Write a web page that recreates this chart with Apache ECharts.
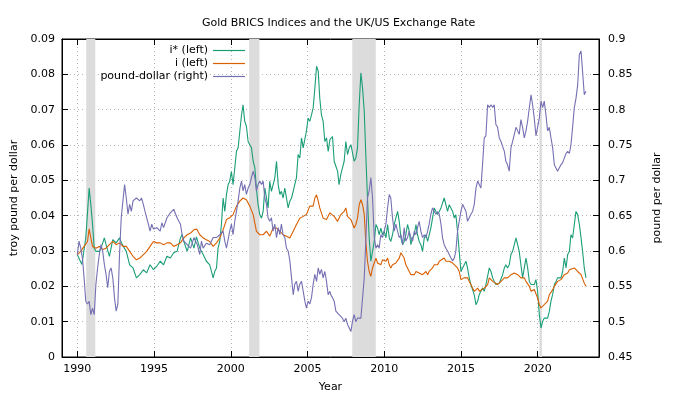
<!DOCTYPE html>
<html>
<head>
<meta charset="utf-8">
<script src="https://cdn.jsdelivr.net/npm/echarts@6/dist/echarts.min.js"></script>
<style>html,body{margin:0;padding:0;background:#fff}#c{width:680px;height:400px}</style>
</head>
<body>
<div id="c"></div>
<script>
const titleText = 'Gold BRICS Indices and the UK/US Exchange Rate';
const seriesNames = ['i* (left)', 'i (left)', 'pound-dollar (right)'];
const xTicks = [1990, 1995, 2000, 2005, 2010, 2015, 2020];
const recessions = [[1990.58, 1991.17], [2001.2, 2001.87], [2007.92, 2009.45], [2020.12, 2020.28]];

const istar = [
[1990.00,0.0290],[1990.15,0.0275],[1990.30,0.0262],[1990.55,0.0337],[1990.77,0.0478],[1990.88,0.0431],[1990.99,0.0375],[1991.10,0.0308],[1991.21,0.0299],[1991.43,0.0299],[1991.54,0.0308],[1991.76,0.0337],[1991.87,0.0318],[1992.09,0.0285],[1992.31,0.0332],[1992.53,0.0323],[1992.75,0.0337],[1992.93,0.0318],[1993.19,0.0299],[1993.41,0.0261],[1993.63,0.0252],[1993.85,0.0224],[1994.07,0.0233],[1994.30,0.0247],[1994.52,0.0238],[1994.74,0.0261],[1994.96,0.0247],[1995.18,0.0257],[1995.40,0.0271],[1995.62,0.0261],[1995.84,0.0285],[1996.06,0.0280],[1996.28,0.0295],[1996.50,0.0299],[1996.72,0.0337],[1996.83,0.0347],[1996.94,0.0327],[1997.16,0.0299],[1997.38,0.0337],[1997.60,0.0308],[1997.76,0.0340],
[1997.98,0.0308],[1998.20,0.0290],[1998.41,0.0271],[1998.63,0.0261],[1998.85,0.0224],[1998.96,0.0243],[1999.07,0.0252],[1999.17,0.0308],[1999.28,0.0327],[1999.39,0.0375],[1999.50,0.0450],[1999.61,0.0412],[1999.72,0.0460],[1999.83,0.0488],[1999.93,0.0497],[2000.04,0.0525],[2000.15,0.0488],[2000.26,0.0535],[2000.37,0.0582],[2000.48,0.0592],[2000.59,0.0639],[2000.70,0.0685],[2000.80,0.0714],[2000.91,0.0667],[2001.02,0.0653],[2001.13,0.0610],[2001.24,0.0601],[2001.35,0.0592],[2001.46,0.0554],[2001.57,0.0535],[2001.67,0.0478],[2001.78,0.0431],[2001.89,0.0403],[2002.00,0.0393],[2002.11,0.0412],[2002.22,0.0478],[2002.33,0.0450],[2002.43,0.0422],[2002.54,0.0497],[2002.65,0.0469],[2002.76,0.0488],[2002.87,0.0507],[2002.98,0.0554],[2003.09,0.0488],[2003.20,0.0460],[2003.30,0.0469],[2003.41,0.0450],[2003.52,0.0478],[2003.63,0.0450],[2003.74,0.0422],[2003.85,0.0441],[2003.96,0.0450],[2004.07,0.0469],[2004.17,0.0488],[2004.28,0.0507],[2004.39,0.0573],[2004.50,0.0563],[2004.61,0.0620],[2004.72,0.0592],[2004.93,0.0639],[2005.04,0.0676],[2005.15,0.0667],[2005.26,0.0685],[2005.37,0.0705],[2005.48,0.0761],[2005.59,0.0823],[2005.70,0.0809],[2005.80,0.0733],[2005.91,0.0685],[2006.02,0.0667],[2006.13,0.0610],[2006.24,0.0620],[2006.35,0.0582],[2006.46,0.0615],
[2006.52,0.0620],[2006.63,0.0624],[2006.74,0.0554],[2006.85,0.0540],[2006.96,0.0526],[2007.06,0.0488],[2007.17,0.0516],[2007.28,0.0535],[2007.39,0.0554],[2007.50,0.0610],[2007.61,0.0573],[2007.72,0.0592],[2007.83,0.0601],[2007.93,0.0601],[2008.04,0.0554],[2008.15,0.0563],[2008.26,0.0592],[2008.37,0.0714],[2008.48,0.0804],[2008.59,0.0761],[2008.70,0.0695],[2008.80,0.0573],[2008.91,0.0450],[2009.02,0.0337],[2009.13,0.0271],[2009.24,0.0299],[2009.35,0.0327],[2009.46,0.0375],[2009.57,0.0365],[2009.67,0.0346],[2009.78,0.0365],[2009.89,0.0346],[2010.00,0.0356],[2010.11,0.0337],[2010.22,0.0375],[2010.33,0.0337],[2010.43,0.0327],[2010.54,0.0346],[2010.65,0.0375],[2010.76,0.0393],[2010.87,0.0412],[2010.98,0.0384],[2011.09,0.0337],[2011.20,0.0318],[2011.30,0.0327],[2011.41,0.0346],[2011.52,0.0375],[2011.63,0.0356],[2011.74,0.0318],[2011.85,0.0337],[2011.96,0.0346],[2012.07,0.0375],[2012.17,0.0346],[2012.28,0.0327],[2012.39,0.0318],[2012.50,0.0299],[2012.61,0.0337],[2012.72,0.0346],[2012.83,0.0327],[2012.93,0.0327],[2013.04,0.0365],[2013.15,0.0393],[2013.26,0.0422],[2013.37,0.0412],[2013.48,0.0403],[2013.59,0.0412],[2013.70,0.0422],[2013.80,0.0422],[2013.91,0.0450],[2014.02,0.0431],[2014.13,0.0412],[2014.24,0.0431],[2014.35,0.0431],[2014.46,0.0412],[2014.57,0.0393],[2014.67,0.0403],[2014.78,0.0356],[2014.89,0.0299],[2015.00,0.0242],[2015.11,0.0252],[2015.22,0.0252],
[2015.33,0.0271],[2015.43,0.0252],[2015.54,0.0224],[2015.65,0.0205],[2015.87,0.0176],[2015.98,0.0148],[2016.09,0.0158],[2016.20,0.0177],[2016.30,0.0186],[2016.41,0.0195],[2016.52,0.0186],[2016.63,0.0205],[2016.74,0.0205],[2016.85,0.0252],[2016.96,0.0242],[2017.07,0.0224],[2017.17,0.0214],[2017.28,0.0205],[2017.39,0.0205],[2017.50,0.0209],[2017.61,0.0214],[2017.72,0.0233],[2017.83,0.0252],[2017.93,0.0261],[2018.04,0.0252],[2018.15,0.0261],[2018.26,0.0290],[2018.37,0.0299],[2018.48,0.0318],[2018.59,0.0337],[2018.70,0.0342],[2018.80,0.0299],[2018.91,0.0261],[2019.02,0.0224],[2019.13,0.0252],[2019.24,0.0280],[2019.35,0.0252],[2019.46,0.0214],[2019.57,0.0205],[2019.67,0.0209],[2019.78,0.0205],[2019.89,0.0219],[2020.00,0.0186],[2020.11,0.0120],[2020.22,0.0082],[2020.33,0.0101],[2020.43,0.0110],[2020.54,0.0115],[2020.65,0.0110],[2020.76,0.0129],[2020.87,0.0158],[2020.98,0.0177],[2021.09,0.0205],[2021.20,0.0214],[2021.30,0.0224],[2021.41,0.0224],[2021.52,0.0224],[2021.63,0.0242],[2021.74,0.0280],[2021.85,0.0252],[2021.96,0.0290],[2022.07,0.0299],[2022.17,0.0346],[2022.28,0.0337],[2022.39,0.0375],[2022.50,0.0412],[2022.61,0.0403],[2022.72,0.0375],[2022.83,0.0337],[2022.93,0.0299],[2023.04,0.0252],[2023.15,0.0224]
];

const iSeries = [
[1990.00,0.0290],[1990.22,0.0299],[1990.44,0.0313],[1990.66,0.0327],[1990.77,0.0363],[1990.88,0.0337],[1990.99,0.0313],[1991.21,0.0308],[1991.43,0.0313],[1991.65,0.0304],[1991.87,0.0308],[1992.09,0.0318],[1992.31,0.0327],[1992.53,0.0318],[1992.75,0.0323],[1992.97,0.0313],[1993.19,0.0313],[1993.41,0.0299],[1993.63,0.0285],[1993.85,0.0275],[1994.07,0.0280],[1994.30,0.0290],[1994.52,0.0299],[1994.74,0.0313],[1994.96,0.0327],[1995.18,0.0323],[1995.40,0.0323],[1995.62,0.0318],[1995.84,0.0323],[1996.06,0.0323],[1996.28,0.0313],[1996.50,0.0318],[1996.72,0.0323],[1996.94,0.0337],[1997.16,0.0346],[1997.38,0.0351],[1997.60,0.0360],[1997.78,0.0362],
[1997.98,0.0346],[1998.20,0.0337],[1998.41,0.0332],[1998.63,0.0327],[1998.85,0.0313],[1999.07,0.0323],[1999.28,0.0337],[1999.50,0.0360],[1999.72,0.0389],[1999.93,0.0394],[2000.15,0.0403],[2000.37,0.0427],[2000.59,0.0441],[2000.80,0.0450],[2001.02,0.0445],[2001.24,0.0427],[2001.46,0.0403],[2001.67,0.0356],[2001.89,0.0346],[2002.11,0.0346],[2002.33,0.0356],[2002.54,0.0342],[2002.76,0.0365],[2002.98,0.0365],[2003.20,0.0356],[2003.41,0.0346],[2003.63,0.0342],[2003.85,0.0337],[2004.07,0.0356],[2004.28,0.0375],[2004.50,0.0393],[2004.72,0.0398],[2004.93,0.0403],[2005.15,0.0427],[2005.37,0.0427],[2005.48,0.0450],[2005.59,0.0459],[2005.70,0.0441],[2005.80,0.0422],[2006.02,0.0393],[2006.24,0.0389],[2006.46,0.0408],
[2006.52,0.0403],[2006.74,0.0398],[2006.96,0.0384],[2007.17,0.0403],[2007.39,0.0412],[2007.50,0.0422],[2007.61,0.0398],[2007.83,0.0389],[2008.04,0.0365],[2008.15,0.0375],[2008.26,0.0393],[2008.37,0.0431],[2008.48,0.0445],[2008.59,0.0431],[2008.70,0.0403],[2008.80,0.0327],[2008.91,0.0271],[2009.02,0.0242],[2009.13,0.0228],[2009.24,0.0252],[2009.35,0.0266],[2009.46,0.0280],[2009.57,0.0266],[2009.67,0.0271],[2009.78,0.0261],[2009.89,0.0275],[2010.00,0.0275],[2010.11,0.0271],[2010.22,0.0280],[2010.33,0.0261],[2010.43,0.0252],[2010.54,0.0261],[2010.65,0.0266],[2010.76,0.0266],[2010.87,0.0261],[2010.98,0.0280],[2011.09,0.0295],[2011.20,0.0299],[2011.30,0.0280],[2011.41,0.0261],[2011.52,0.0252],[2011.63,0.0242],[2011.74,0.0233],[2011.85,0.0238],[2011.96,0.0233],[2012.07,0.0242],[2012.17,0.0247],[2012.28,0.0238],[2012.39,0.0238],[2012.50,0.0233],[2012.61,0.0238],[2012.72,0.0242],[2012.83,0.0233],[2012.93,0.0242],[2013.04,0.0247],[2013.15,0.0252],[2013.26,0.0261],[2013.37,0.0256],[2013.48,0.0261],[2013.59,0.0271],[2013.70,0.0275],[2013.91,0.0280],[2014.02,0.0271],[2014.13,0.0275],[2014.24,0.0271],[2014.35,0.0275],[2014.46,0.0266],[2014.57,0.0261],[2014.78,0.0252],[2014.89,0.0242],[2015.00,0.0219],[2015.11,0.0224],[2015.22,0.0224],
[2015.33,0.0226],[2015.43,0.0224],[2015.54,0.0214],[2015.65,0.0205],[2015.76,0.0195],[2015.87,0.0186],[2015.98,0.0191],[2016.09,0.0195],[2016.20,0.0186],[2016.30,0.0191],[2016.52,0.0195],[2016.74,0.0205],[2016.85,0.0224],[2016.96,0.0219],[2017.07,0.0214],[2017.17,0.0209],[2017.39,0.0205],[2017.61,0.0214],[2017.83,0.0224],[2018.04,0.0224],[2018.26,0.0233],[2018.48,0.0238],[2018.59,0.0238],[2018.70,0.0233],[2018.91,0.0224],[2019.13,0.0224],[2019.24,0.0214],[2019.35,0.0209],[2019.46,0.0200],[2019.57,0.0186],[2019.78,0.0191],[2020.00,0.0167],[2020.11,0.0148],[2020.22,0.0139],[2020.43,0.0148],[2020.65,0.0158],[2020.76,0.0176],[2020.87,0.0176],[2020.98,0.0190],[2021.09,0.0200],[2021.30,0.0214],[2021.52,0.0219],[2021.74,0.0233],[2021.96,0.0238],[2022.07,0.0247],[2022.17,0.0252],[2022.39,0.0252],[2022.61,0.0242],[2022.83,0.0233],[2023.04,0.0209],[2023.15,0.0200]
];

const poundDollar = [
[1990.00,0.595],[1990.11,0.614],[1990.22,0.604],[1990.33,0.590],[1990.44,0.562],[1990.55,0.529],[1990.66,0.525],[1990.77,0.529],[1990.88,0.510],[1990.99,0.519],[1991.10,0.510],[1991.21,0.553],[1991.32,0.576],[1991.43,0.595],[1991.54,0.609],[1991.65,0.600],[1991.76,0.581],[1991.87,0.567],[1991.98,0.548],[1992.09,0.571],[1992.20,0.576],[1992.31,0.562],[1992.42,0.534],[1992.53,0.515],[1992.64,0.525],[1992.75,0.595],[1992.86,0.647],[1992.97,0.647],[1993.08,0.694],[1993.19,0.675],[1993.30,0.652],[1993.41,0.666],[1993.52,0.656],[1993.63,0.671],[1993.85,0.675],[1994.07,0.671],[1994.18,0.675],[1994.30,0.666],[1994.41,0.656],[1994.52,0.647],[1994.63,0.638],[1994.74,0.628],[1994.85,0.638],[1994.96,0.631],[1995.18,0.633],[1995.40,0.628],[1995.51,0.640],[1995.62,0.633],[1995.84,0.647],[1996.06,0.654],[1996.28,0.659],[1996.50,0.647],[1996.72,0.638],[1996.83,0.623],[1996.94,0.614],[1997.16,0.609],[1997.38,0.604],[1997.60,0.619],[1997.82,0.609],
[1997.98,0.595],[1998.09,0.614],[1998.20,0.604],[1998.41,0.611],[1998.63,0.609],[1998.85,0.619],[1999.07,0.619],[1999.28,0.623],[1999.50,0.628],[1999.61,0.614],[1999.72,0.604],[1999.93,0.628],[2000.04,0.638],[2000.15,0.623],[2000.26,0.642],[2000.37,0.656],[2000.48,0.671],[2000.59,0.689],[2000.70,0.699],[2000.80,0.685],[2000.91,0.694],[2001.02,0.680],[2001.13,0.689],[2001.24,0.694],[2001.35,0.704],[2001.46,0.713],[2001.57,0.704],[2001.67,0.685],[2001.78,0.694],[2001.89,0.699],[2002.00,0.694],[2002.11,0.699],[2002.22,0.675],[2002.33,0.666],[2002.43,0.647],[2002.54,0.642],[2002.65,0.647],[2002.76,0.628],[2002.87,0.638],[2002.98,0.619],[2003.09,0.633],[2003.20,0.623],[2003.30,0.638],[2003.41,0.623],[2003.52,0.619],[2003.63,0.604],[2003.74,0.600],[2003.85,0.586],[2003.96,0.562],[2004.07,0.538],[2004.17,0.553],[2004.28,0.557],[2004.39,0.543],[2004.50,0.553],[2004.61,0.557],[2004.72,0.543],[2004.83,0.529],[2004.93,0.519],[2005.04,0.529],[2005.15,0.525],[2005.26,0.534],[2005.37,0.553],[2005.48,0.567],[2005.59,0.557],[2005.70,0.576],[2005.80,0.567],[2005.91,0.574],[2006.02,0.562],[2006.13,0.571],[2006.24,0.557],[2006.35,0.538],[2006.46,0.543],
[2006.52,0.538],[2006.63,0.534],[2006.74,0.529],[2006.85,0.515],[2006.96,0.515],[2007.06,0.510],[2007.17,0.510],[2007.28,0.505],[2007.39,0.500],[2007.50,0.505],[2007.61,0.496],[2007.72,0.491],[2007.83,0.486],[2007.93,0.500],[2008.04,0.510],[2008.15,0.500],[2008.26,0.505],[2008.48,0.505],[2008.59,0.505],[2008.70,0.562],[2008.80,0.614],[2008.91,0.675],[2009.02,0.685],[2009.13,0.704],[2009.24,0.675],[2009.35,0.619],[2009.46,0.604],[2009.57,0.609],[2009.67,0.604],[2009.78,0.623],[2009.89,0.619],[2010.00,0.628],[2010.11,0.638],[2010.22,0.661],[2010.33,0.680],[2010.43,0.675],[2010.54,0.647],[2010.65,0.628],[2010.76,0.638],[2010.87,0.628],[2010.98,0.619],[2011.09,0.623],[2011.20,0.609],[2011.30,0.633],[2011.41,0.614],[2011.52,0.619],[2011.63,0.628],[2011.74,0.619],[2011.85,0.614],[2011.96,0.628],[2012.07,0.623],[2012.17,0.633],[2012.28,0.642],[2012.39,0.628],[2012.50,0.619],[2012.61,0.623],[2012.72,0.619],[2012.83,0.628],[2012.93,0.638],[2013.04,0.652],[2013.15,0.661],[2013.26,0.656],[2013.37,0.652],[2013.48,0.656],[2013.59,0.652],[2013.70,0.638],[2013.80,0.619],[2013.91,0.609],[2014.02,0.604],[2014.13,0.600],[2014.24,0.595],[2014.35,0.590],[2014.46,0.586],[2014.57,0.590],[2014.67,0.600],[2014.78,0.628],[2014.89,0.628],[2015.00,0.656],[2015.11,0.666],[2015.22,0.668],
[2015.33,0.656],[2015.43,0.642],[2015.54,0.642],[2015.65,0.652],[2015.76,0.656],[2015.87,0.666],[2015.98,0.689],[2016.09,0.699],[2016.20,0.701],[2016.30,0.689],[2016.41,0.722],[2016.52,0.760],[2016.63,0.763],[2016.74,0.807],[2016.85,0.803],[2016.96,0.807],[2017.07,0.803],[2017.17,0.807],[2017.28,0.779],[2017.39,0.775],[2017.50,0.760],[2017.61,0.755],[2017.72,0.755],[2017.83,0.741],[2017.93,0.727],[2018.04,0.722],[2018.15,0.713],[2018.26,0.746],[2018.37,0.755],[2018.48,0.765],[2018.59,0.775],[2018.70,0.770],[2018.80,0.765],[2018.91,0.786],[2019.02,0.775],[2019.13,0.760],[2019.24,0.770],[2019.35,0.784],[2019.46,0.803],[2019.57,0.821],[2019.67,0.807],[2019.78,0.788],[2019.89,0.763],[2020.00,0.765],[2020.11,0.788],[2020.22,0.812],[2020.33,0.803],[2020.43,0.812],[2020.54,0.793],[2020.65,0.770],[2020.76,0.775],[2020.87,0.760],[2020.98,0.746],[2021.09,0.722],[2021.20,0.722],[2021.30,0.713],[2021.41,0.713],[2021.52,0.722],[2021.63,0.725],[2021.74,0.727],[2021.85,0.738],[2021.96,0.741],[2022.07,0.738],[2022.17,0.750],[2022.28,0.775],[2022.39,0.803],[2022.50,0.816],[2022.61,0.835],[2022.72,0.878],[2022.83,0.883],[2022.93,0.854],[2023.04,0.821],[2023.15,0.826]
];

const colors = ['#1b9e77', '#d95f02', '#7570b3'];
const FONT = 'DejaVu Sans';
const FS = 11;

const chart = echarts.init(document.getElementById('c'), null, {renderer: 'canvas'});
const tickStyle = {show: true, inside: true, length: 6, lineStyle: {color: '#000', width: 1}};
const gridLine = {show: true, lineStyle: {color: '#b4b4b4', width: 1, type: [1, 3]}};
const txt = {fontSize: FS, color: '#000', fontFamily: FONT};

chart.setOption({
  animation: false,
  backgroundColor: '#fff',
  textStyle: {fontFamily: FONT},
  title: {
    text: titleText, left: 197, top: 13,
    textStyle: Object.assign({fontWeight: 'normal'}, txt)
  },
  legend: seriesNames.map((n, i) => ({
    data: [n], right: 435, top: 45 + i * 13, orient: 'vertical', align: 'right',
    icon: 'rect', itemWidth: 32, itemHeight: 1.2, padding: 0, itemGap: 0,
    selectedMode: false,
    textStyle: txt
  })),
  grid: {left: 62, right: 81, top: 39, bottom: 43, show: true, borderColor: '#000', borderWidth: 1, backgroundColor: 'transparent'},
  xAxis: [{
    type: 'value', min: 1989, max: 2024,
    name: 'Year', nameLocation: 'middle', nameGap: 25,
    nameTextStyle: txt,
    axisLine: {show: true, onZero: false, lineStyle: {color: '#000'}},
    axisTick: Object.assign({customValues: xTicks}, tickStyle),
    axisLabel: Object.assign({customValues: xTicks, margin: 7, formatter: v => String(v)}, txt),
    splitLine: gridLine
  }, {
    type: 'value', min: 1989, max: 2024, position: 'top',
    axisLine: {show: true, onZero: false, lineStyle: {color: '#000'}},
    axisTick: Object.assign({customValues: xTicks}, tickStyle),
    axisLabel: {show: false, customValues: xTicks},
    splitLine: {show: false}
  }],
  yAxis: [{
    type: 'value', min: 0, max: 0.09, interval: 0.01, position: 'left',
    name: 'troy pound per dollar', nameLocation: 'middle', nameGap: 38, nameRotate: 90,
    nameTextStyle: txt,
    axisLine: {show: true, onZero: false, lineStyle: {color: '#000'}},
    axisTick: tickStyle,
    axisLabel: Object.assign({margin: 7}, txt),
    splitLine: gridLine
  }, {
    type: 'value', min: 0.45, max: 0.9, interval: 0.05, position: 'right',
    name: 'pound per dollar', nameLocation: 'middle', nameGap: 53, nameRotate: 90,
    nameTextStyle: txt,
    axisLine: {show: true, onZero: false, lineStyle: {color: '#000'}},
    axisTick: tickStyle,
    axisLabel: Object.assign({margin: 9}, txt),
    splitLine: {show: false}
  }],
  series: [{
    name: 'recessions', type: 'line', data: [], z: 0, silent: true,
    markArea: {
      silent: true,
      itemStyle: {color: '#dcdcdc'},
      data: recessions.map(r => [{xAxis: r[0]}, {xAxis: r[1]}])
    }
  }, {
    name: seriesNames[0], type: 'line', data: istar, showSymbol: false, symbol: 'none', zlevel: 1,
    color: colors[0], lineStyle: {width: 1.1, color: colors[0]}
  }, {
    name: seriesNames[1], type: 'line', data: iSeries, showSymbol: false, symbol: 'none', zlevel: 1,
    color: colors[1], lineStyle: {width: 1.1, color: colors[1]}
  }, {
    name: seriesNames[2], type: 'line', yAxisIndex: 1, data: poundDollar, showSymbol: false, symbol: 'none', zlevel: 1,
    color: colors[2], lineStyle: {width: 1.1, color: colors[2]}
  }]
});
</script>
</body>
</html>
